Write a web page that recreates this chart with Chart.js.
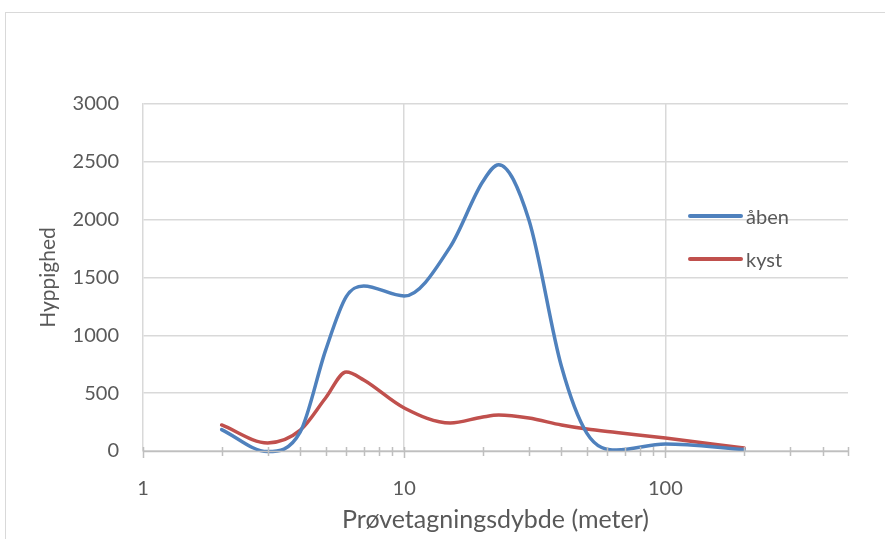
<!DOCTYPE html>
<html>
<head>
<meta charset="utf-8">
<script src="https://cdn.jsdelivr.net/npm/chart.js@4/dist/chart.umd.min.js"></script>
<style>
  body { margin: 0; background: #fff; }
  #wrap { position: relative; width: 885px; height: 539px; overflow: hidden; }
  #frame { position: absolute; left: 5px; top: 12px; width: 900px; height: 600px; border: 1px solid #d9d9d9; }
  #chart { position: absolute; left: 0; top: 0; }
  #legend { position: absolute; left: 688px; top: 194px; font-family: Lato, sans-serif; font-size: 20px; color: #595959; }
  #legend .item { display: flex; align-items: center; height: 43px; }
  #legend .swatch { width: 55px; height: 4px; border-radius: 2px; margin-right: 3px; }
</style>
</head>
<body>
<div id="wrap">
  <div id="frame"></div>
  <canvas id="chart" width="885" height="539"></canvas>
  <div id="legend"></div>
</div>
<script>
// depth (m) and frequency
const depths = [2, 3, 4, 5, 6, 7, 10, 15, 20, 23, 30, 40, 50, 65, 100, 200];
const aben = [185, -5, 165, 870, 1335, 1427, 1340, 1765, 2330, 2475, 2000, 730, 155, 8, 60, 12];
const kyst = [225, 70, 180, 458, 683, 614, 372, 242, 294, 311, 285, 225, 190, 160, 112, 26];
const xLabels = [1, 10, 100];
const yTicks = [0, 500, 1000, 1500, 2000, 2500, 3000];

const toPoints = (vals) => depths.map((d, i) => ({ x: d, y: vals[i] }));
const font = "Lato, sans-serif";
const textColor = "#595959";

// tick marks crossing the x axis, like Excel draws them
const crossTicks = {
  id: "crossTicks",
  afterDatasetsDraw(chart) {
    const { ctx, scales } = chart;
    const x = scales.x;
    const y0 = chart.chartArea.bottom;
    ctx.save();
    ctx.strokeStyle = "#bfbfbf";
    ctx.lineWidth = 1.5;
    x.ticks.forEach((t) => {
      const px = Math.round(x.getPixelForValue(t.value)) + 0.5;
      const major = xLabels.includes(t.value);
      ctx.beginPath();
      ctx.moveTo(px, y0 - 4);
      ctx.lineTo(px, y0 + (major ? 7 : 5));
      ctx.stroke();
    });
    ctx.beginPath();
    ctx.moveTo(x.left, y0 + 0.5);
    ctx.lineTo(x.right, y0 + 0.5);
    ctx.stroke();
    ctx.restore();
  },
};

const chart = new Chart(document.querySelector("#chart"), {
  type: "line",
  data: {
    datasets: [
      {
        label: "åben",
        data: toPoints(aben),
        borderColor: "#4f81bd",
        borderWidth: 3.5,
        pointRadius: 0,
        cubicInterpolationMode: "monotone",
        clip: false,
      },
      {
        label: "kyst",
        data: toPoints(kyst),
        borderColor: "#c0504d",
        borderWidth: 3.5,
        pointRadius: 0,
        cubicInterpolationMode: "monotone",
        clip: false,
      },
    ],
  },
  options: {
    responsive: false,
    animation: false,
    elements: { line: { capBezierPoints: false, borderCapStyle: "round" } },
    layout: { padding: { top: 104, right: 37, left: 32, bottom: 0 } },
    plugins: { legend: { display: false }, tooltip: { enabled: false } },
    scales: {
      x: {
        type: "logarithmic",
        min: 1,
        max: 500,
        afterFit: (s) => { s.height = 88; },
        afterBuildTicks: (s) => {
          const out = [];
          [1, 10, 100].forEach((dec) => {
            for (let k = 1; k <= 9; k++) {
              const v = dec * k;
              if (v <= 500) out.push({ value: v });
            }
          });
          s.ticks = out;
        },
        border: { display: false },
        grid: {
          drawTicks: false,
          color: (c) => (c.tick && (c.tick.value === 10 || c.tick.value === 100) ? "#d9d9d9" : "transparent"),
          lineWidth: 1.5,
        },
        ticks: {
          autoSkip: false,
          maxRotation: 0,
          padding: 26,
          color: textColor,
          font: { family: font, size: 20 },
          callback: (v) => (xLabels.includes(v) ? String(v) : ""),
        },
        title: {
          display: true,
          text: "Prøvetagningsdybde (meter)",
          color: textColor,
          font: { family: font, size: 25 },
          padding: { top: 1 },
        },
      },
      y: {
        min: 0,
        max: 3000,
        afterFit: (s) => { s.width = 111; },
        afterBuildTicks: (s) => { s.ticks = yTicks.map((v) => ({ value: v })); },
        border: { display: true, color: "#d9d9d9", width: 1.5 },
        grid: { drawTicks: false, color: "#d9d9d9", lineWidth: 1.5 },
        ticks: {
          padding: 24,
          color: textColor,
          font: { family: font, size: 20 },
          callback: (v) => String(v),
        },
        title: {
          display: true,
          text: "Hyppighed",
          color: textColor,
          font: { family: font, size: 21 },
          padding: { bottom: 0 },
        },
      },
    },
  },
  plugins: [crossTicks],
});

const legend = document.querySelector("#legend");
chart.data.datasets.forEach((ds) => {
  const item = document.createElement("div");
  item.className = "item";
  const sw = document.createElement("span");
  sw.className = "swatch";
  sw.style.background = ds.borderColor;
  const label = document.createElement("span");
  label.textContent = ds.label;
  item.appendChild(sw);
  item.appendChild(label);
  legend.appendChild(item);
});
</script>
</body>
</html>
